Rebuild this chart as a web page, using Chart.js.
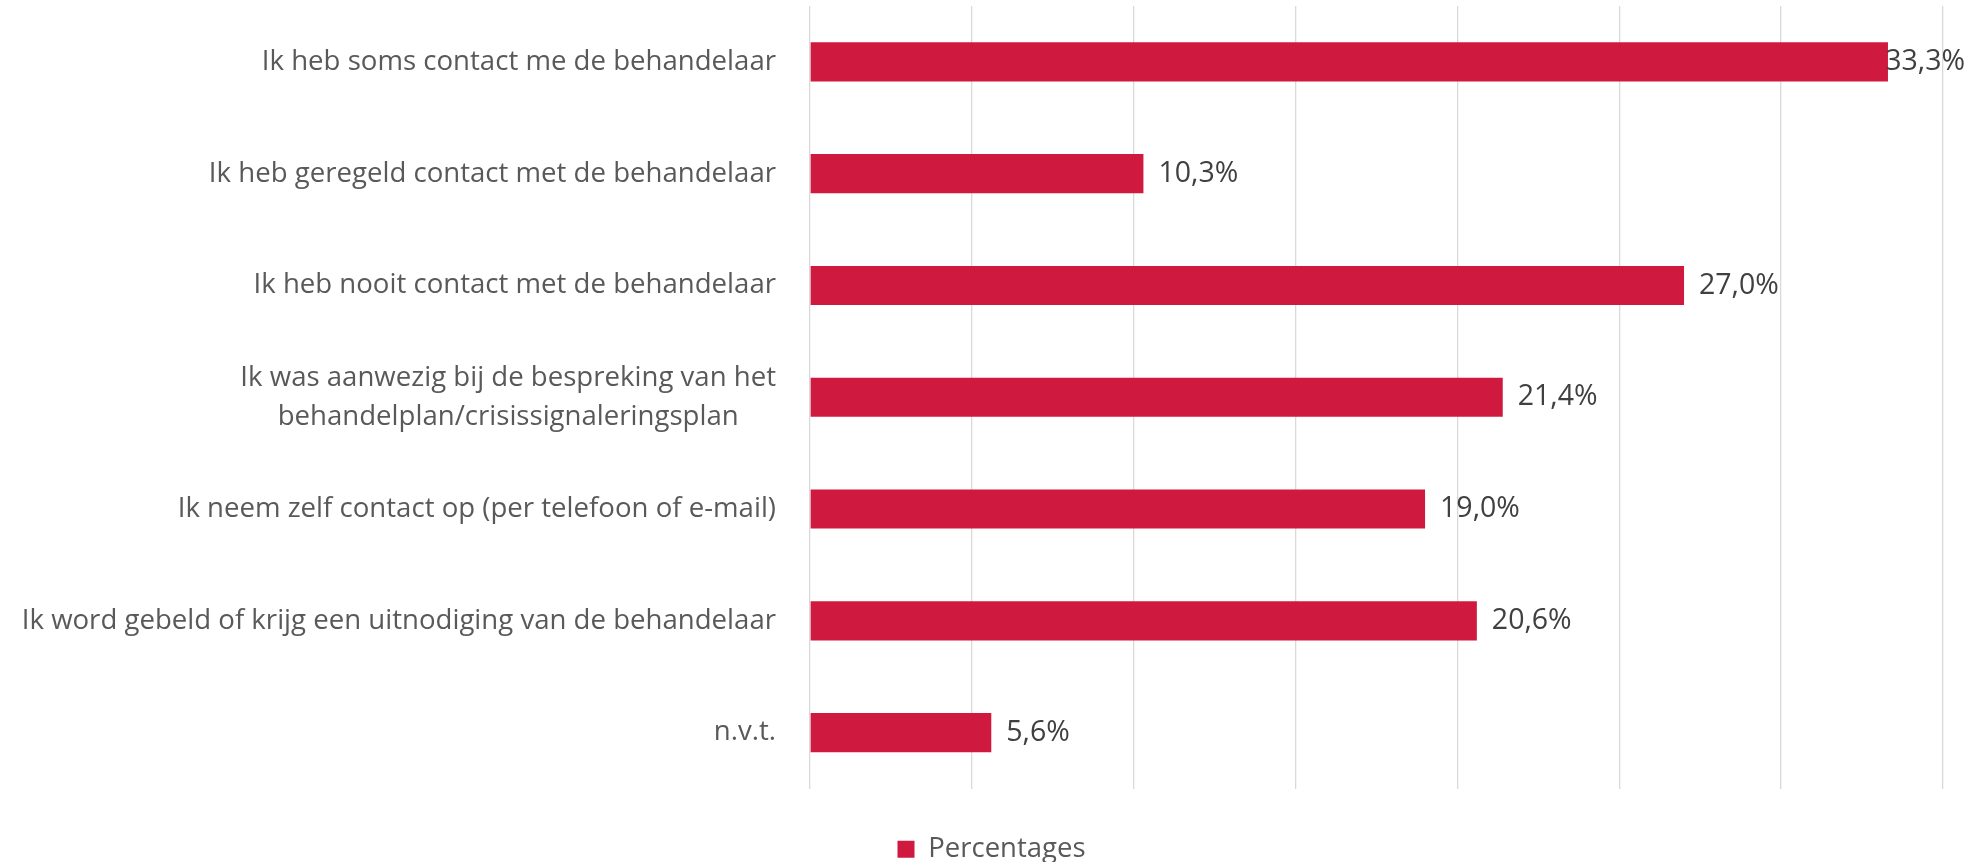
<!DOCTYPE html>
<html>
<head>
<meta charset="utf-8">
<script src="https://cdn.jsdelivr.net/npm/chart.js@4/dist/chart.umd.min.js"></script>
<style>
  html, body { margin: 0; padding: 0; background: #ffffff; }
  #wrap { width: 1973px; height: 862px; position: relative; }
</style>
</head>
<body>
<div id="wrap"><canvas id="c"></canvas></div>
<script>
const categories = [
  "Ik heb soms contact me de behandelaar",
  "Ik heb geregeld contact met de behandelaar",
  "Ik heb nooit contact met de behandelaar",
  ["Ik was aanwezig bij de bespreking van het", "behandelplan/crisissignaleringsplan"],
  "Ik neem zelf contact op (per telefoon of e-mail)",
  "Ik word gebeld of krijg een uitnodiging van de behandelaar",
  "n.v.t."
];
const percentages = [33.3, 10.3, 27.0, 21.4, 19.0, 20.6, 5.6];
const seriesName = "Percentages";
const axisMin = 0;
const axisMax = 35;
const axisStep = 5;

const FONT = "'Open Sans', sans-serif";
const LABEL_SIZE = 27.6;
const VALUE_SIZE = 28.5;
const LEGEND_SIZE = 27.5;

const yLabelsPlugin = {
  id: 'yLabels',
  afterDraw(chart) {
    const ctx = chart.ctx;
    const ys = chart.scales.y;
    const right = chart.chartArea.left - 34;
    ctx.save();
    ctx.font = LABEL_SIZE + 'px ' + FONT;
    ctx.fillStyle = '#595959';
    ctx.textBaseline = 'middle';
    chart.data.labels.forEach((lab, i) => {
      const lines = Array.isArray(lab) ? lab : [lab];
      const cy = ys.getPixelForValue(i);
      const lh = 39;
      const maxW = Math.max(...lines.map(l => ctx.measureText(l).width));
      ctx.textAlign = 'center';
      const cx = right - maxW / 2;
      lines.forEach((l, k) => {
        const y = cy - (lines.length - 1) * lh / 2 + k * lh;
        ctx.fillText(l, cx, y);
      });
    });
    ctx.restore();
  }
};

const valueLabelsPlugin = {
  id: 'valueLabels',
  afterDatasetsDraw(chart) {
    const ctx = chart.ctx;
    const meta = chart.getDatasetMeta(0);
    ctx.save();
    ctx.font = VALUE_SIZE + 'px ' + FONT;
    ctx.fillStyle = '#404040';
    ctx.textBaseline = 'middle';
    ctx.textAlign = 'left';
    meta.data.forEach((el, i) => {
      const v = chart.data.datasets[0].data[i];
      const txt = v.toFixed(1).replace('.', ',') + '%';
      const w = ctx.measureText(txt).width;
      let x = el.x + 15;
      if (x + w > chart.width - 8) x = chart.width - 8 - w;
      ctx.fillText(txt, x, el.y);
    });
    ctx.restore();
  }
};

new Chart(document.getElementById('c'), {
  type: 'bar',
  data: {
    labels: categories,
    datasets: [{
      label: seriesName,
      data: percentages,
      backgroundColor: '#D0193F',
      borderWidth: 0,
      barPercentage: 0.35,
      categoryPercentage: 1.0
    }]
  },
  options: {
    indexAxis: 'y',
    responsive: true,
    maintainAspectRatio: false,
    animation: false,
    layout: { padding: { top: 6, right: 30, left: 40, bottom: -11 } },
    scales: {
      x: {
        min: axisMin,
        max: axisMax,
        ticks: { stepSize: axisStep, display: false },
        grid: { color: '#d9d9d9', lineWidth: 1.3, drawTicks: false },
        border: { display: false },
        afterFit(s) { s.height = 47; }
      },
      y: {
        ticks: { display: false },
        grid: { display: false },
        border: { display: false },
        afterFit(s) { s.width = 770; }
      }
    },
    plugins: {
      legend: {
        position: 'bottom',
        labels: {
          boxWidth: 17,
          boxHeight: 17,
          padding: 0,
          color: '#595959',
          font: { size: LEGEND_SIZE, family: FONT }
        }
      },
      tooltip: { enabled: false }
    }
  },
  plugins: [yLabelsPlugin, valueLabelsPlugin]
});
</script>
</body>
</html>
